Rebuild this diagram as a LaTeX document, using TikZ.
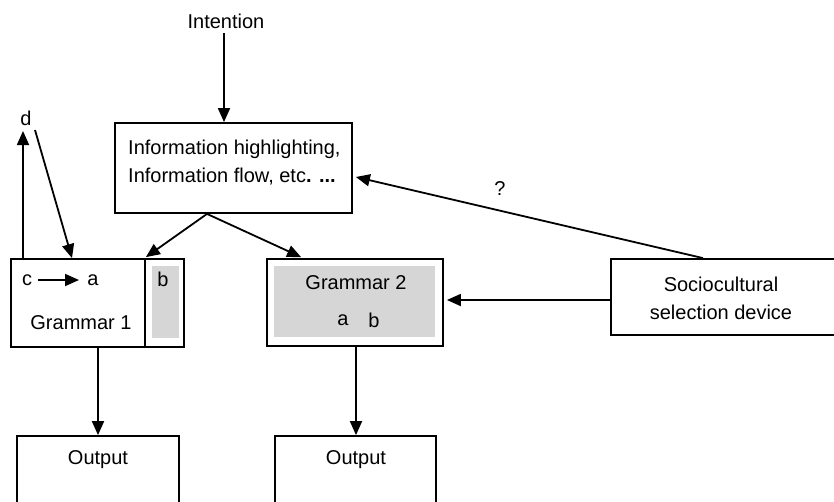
\documentclass[tikz,border=0pt]{standalone}
\usepackage{fontspec}
\setmainfont{Liberation Sans}
\usetikzlibrary{arrows.meta,calc}
\definecolor{boxgray}{HTML}{D6D6D6}
\begin{document}
\begin{tikzpicture}[x=1pt,y=-1pt,
  every node/.style={font=\fontsize{20}{28}\selectfont, inner sep=0pt},
  box/.style={draw, line width=1.8pt, rectangle},
  shade/.style={fill=boxgray, draw=none, rectangle},
  arr/.style={line width=1.8pt, -{Triangle[length=14pt,width=12pt]}},
  txt/.style={anchor=center}]
\useasboundingbox (0,0) rectangle (834,501);
% boxes
\node[box, minimum width=237pt, minimum height=90pt] (info) at (233.5,168) {};
\node[anchor=west, align=left] (infot) at (128,163) {Information highlighting,\\Information flow, etc\textbf{. ...}};
\node[box, minimum width=173pt, minimum height=88pt] (g1) at (97.5,303) {};
\node[shade, minimum width=27pt, minimum height=72pt] (g1b) at (165.5,302) {};
\draw[line width=1.8pt] (g1.north west -| 145,0) coordinate (divt) -- (g1.south west -| 145,0) coordinate (divb);
\node[box, minimum width=176pt, minimum height=87pt] (g2) at (355,302.5) {};
\node[shade, minimum width=161pt, minimum height=71pt] (g2s) at (354.5,301.5) {};
\node[box, minimum width=229pt, minimum height=76pt] (soc) at (725.5,297) {};
\node[box, minimum width=162pt, minimum height=90pt] (out1) at (98,481) {};
\node[box, minimum width=161pt, minimum height=90pt] (out2) at (355.5,481) {};
% texts
\node (int) at (226,21) {Intention};
\node (d) at (26,118) {d};
\node (c) at (27,280) {c};
\node (a1) at (93,280) {a};
\node (b1) at (163,279) {b};
\node (g1t) at (81,323) {Grammar 1};
\node (g2t) at (356,283) {Grammar 2};
\node (a2) at (343,320) {a};
\node (b2) at (374,320) {b};
\node[align=center] (soct) at (721,298) {Sociocultural\\selection device};
\node (o1t) at (98,460) {Output};
\node (o2t) at (356,460) {Output};
\node (q) at (500,189) {?};
% connectors
\draw[arr] (224,33) coordinate (ints) -- (info.north -| ints);
\draw[arr] ([xshift=-26.5pt]info.south) -- ([xshift=-39pt,yshift=1pt]g1.north east);
\draw[arr] ([xshift=-26.5pt]info.south) -- ([xshift=35pt,yshift=1pt]g2.north west);
\draw[arr] ([xshift=-22.5pt]soc.north) -- ([xshift=3pt,yshift=-9pt]info.east);
\draw[arr] ([yshift=-3pt]soc.west) -- ([xshift=3pt,yshift=-3pt]soc.west -| g2.east);
\draw[arr] (g1.north west -| 23,0) -- (23,131);
\draw[arr] (35,130) -- (g1.north west -| 72,0);
\draw[arr] (c.east) ++(6,0) coordinate (cs) -- (79,280);
\draw[arr] (g1.south -| 98,0) -- (out1.north -| 98,0);
\draw[arr] (g2.south -| 356,0) -- (out2.north -| 356,0);
\end{tikzpicture}
\end{document}
